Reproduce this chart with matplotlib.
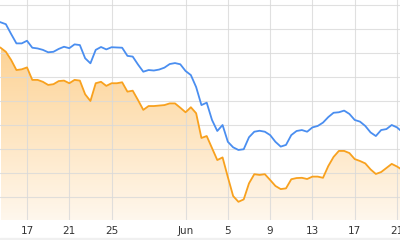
import numpy as np
import pandas as pd
import matplotlib
matplotlib.use("Agg")
import matplotlib.pyplot as plt
import matplotlib.dates as mdates
from matplotlib.colors import LinearSegmentedColormap
from matplotlib.patches import Rectangle

# 12-hourly readings, 14 May 12:00 -> 21 Jun 12:00
start = "2024-05-14 12:00"

blue_vals = [82.8, 82.0, 77.9, 74.0, 74.0, 75.1, 72.2, 71.9, 71.3, 70.3,
             70.5, 71.7, 72.6, 72.0, 73.6, 73.3, 67.8, 65.7, 71.3, 72.5,
             71.5, 72.4, 72.3, 72.2, 68.8, 68.5, 65.2, 62.2, 62.9, 62.7,
             63.1, 63.9, 65.4, 65.8, 65.3, 62.5, 60.8, 55.8, 48.3, 49.3,
             42.1, 37.5, 40.0, 33.0, 30.7, 29.6, 29.9, 34.9, 37.2, 37.6,
             37.2, 35.8, 33.0, 31.0, 31.7, 35.8, 37.5, 37.9, 37.2, 39.0,
             39.6, 41.0, 43.3, 45.1, 45.3, 46.0, 44.6, 42.1, 41.4, 39.6,
             36.9, 35.4, 37.9, 38.3, 40.0, 39.0, 37.1]

orange_vals = [72.2, 70.5, 67.1, 62.9, 63.2, 64.0, 58.8, 58.8, 58.0, 56.7,
               57.0, 58.3, 58.5, 57.4, 58.8, 58.5, 52.8, 50.0, 57.4, 58.0,
               56.3, 57.4, 57.4, 57.8, 53.9, 54.3, 50.4, 46.3, 47.9, 47.9,
               48.1, 48.3, 49.0, 49.0, 47.2, 45.3, 47.4, 44.9, 34.6, 35.4,
               30.4, 25.4, 26.5, 18.3, 10.4, 8.0, 9.0, 15.7, 19.5, 19.2,
               19.5, 17.1, 14.6, 13.3, 13.6, 17.4, 17.9, 18.0, 17.5, 18.5,
               18.5, 18.0, 22.9, 26.7, 29.2, 29.2, 28.3, 25.8, 25.0, 24.0,
               21.5, 19.6, 20.4, 22.1, 23.8, 22.7, 21.3]

tick_dates = ["2024-05-17", "2024-05-21", "2024-05-25", "2024-06-01",
              "2024-06-05", "2024-06-09", "2024-06-13", "2024-06-17", "2024-06-21"]
tick_labels = ["17", "21", "25", "Jun", "5", "9", "13", "17", "21"]

dates = pd.date_range(start, periods=len(blue_vals), freq="12h")

BLUE = "#4a8ef0"
ORANGE = "#f8a11e"

fig = plt.figure(figsize=(4, 2.4), dpi=100)
ax = fig.add_axes([0, 20 / 240, 1, 220 / 240])

x = mdates.date2num(dates)
t0 = mdates.date2num(pd.Timestamp("2024-05-17"))
t1 = mdates.date2num(pd.Timestamp("2024-06-21"))
ax.set_xlim(t0 - 2.554, t1 + 0.284)
ax.set_ylim(0.42, 92.08)

# gradient area under the orange line
poly = ax.fill_between(x, orange_vals, 0.42, color="none", lw=0)
cmap = LinearSegmentedColormap.from_list(
    "fade", [(1.0, 0.97, 0.93), (0.99, 0.80, 0.52)])
grad = np.linspace(0, 1, 256).reshape(-1, 1)
img = ax.imshow(grad, cmap=cmap, aspect="auto", origin="lower",
                extent=[x[0], x[-1], 0.42, 85], zorder=1)
img.set_clip_path(poly.get_paths()[0], transform=ax.transData)

ax.plot(x, orange_vals, color=ORANGE, lw=1.3, zorder=3)
ax.plot(x, blue_vals, color=BLUE, lw=1.3, zorder=3)

ax.set_xticks(mdates.date2num(pd.to_datetime(tick_dates)))
ax.set_xticklabels(tick_labels)
ax.set_yticks(np.arange(10, 100, 10))
ax.grid(True, color="#d9d9d9", lw=0.8, zorder=2)
ax.set_axisbelow(False)
for gl in ax.get_xgridlines() + ax.get_ygridlines():
    gl.set_zorder(2)
    gl.set_alpha(0.8)
ax.tick_params(axis="x", length=0, pad=4, labelsize=7.5, labelcolor="#333333")
ax.tick_params(axis="y", length=0, labelleft=False)
for s in ax.spines.values():
    s.set_visible(False)

fig.patches.append(Rectangle((0, 0), 1, 2 / 240, transform=fig.transFigure,
                             color="#f0f0f0", zorder=0))

fig.savefig("out.png", dpi=100)
